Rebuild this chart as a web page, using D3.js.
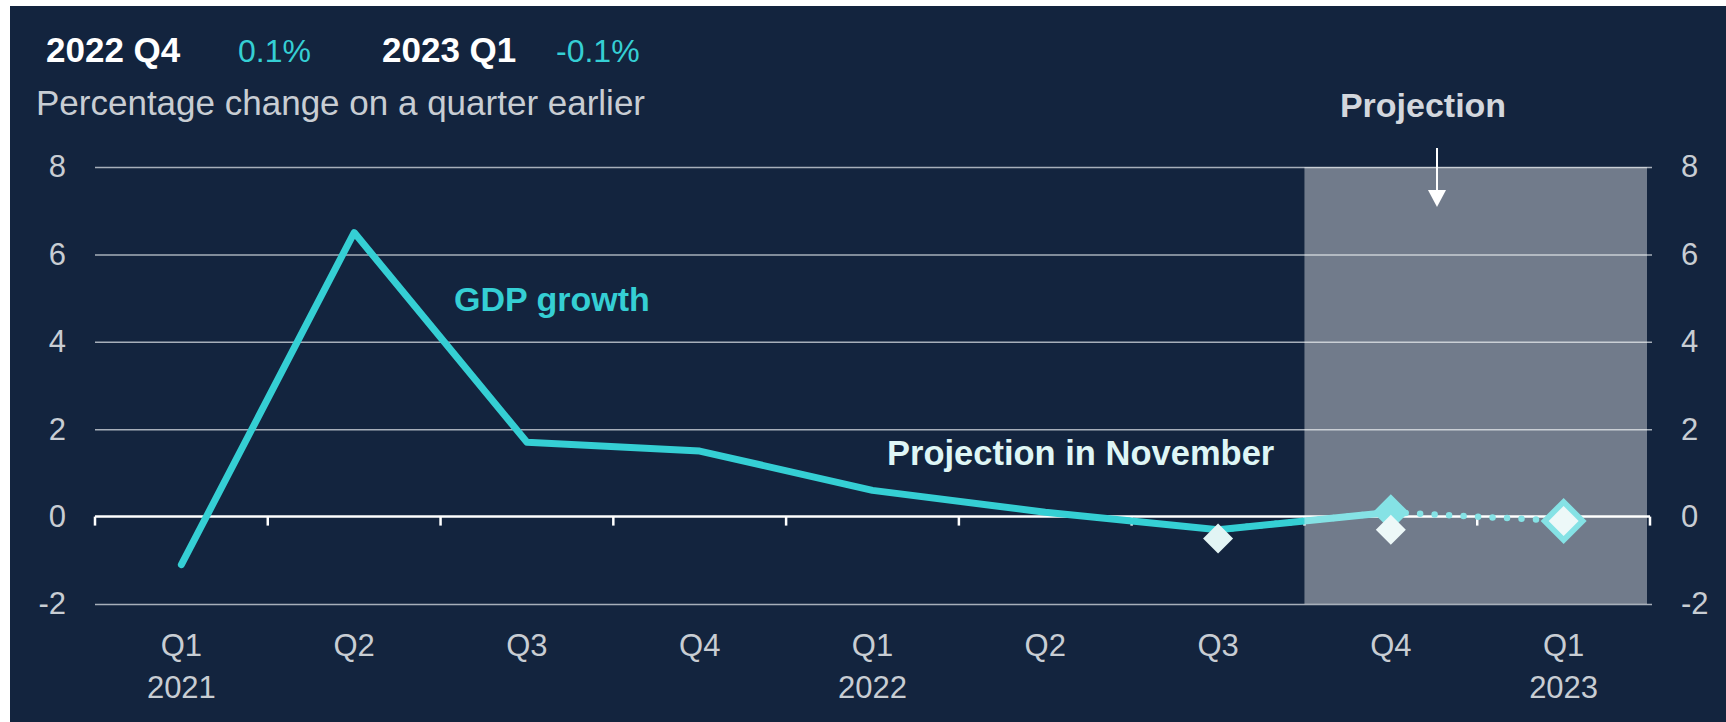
<!DOCTYPE html>
<html lang="en">
<head>
<meta charset="utf-8">
<script src="https://d3js.org/d3.v7.min.js"></script>
<style>
  body { margin: 0; background: #ffffff; }
  text { font-family: "Liberation Sans", Arial, sans-serif; }
</style>
</head>
<body>
<div id="chart"></div>
<script>
// quarters on the x axis
const quarters = ["2021 Q1", "2021 Q2", "2021 Q3", "2021 Q4", "2022 Q1", "2022 Q2", "2022 Q3", "2022 Q4", "2023 Q1"];
const quarterLabels = ["Q1", "Q2", "Q3", "Q4", "Q1", "Q2", "Q3", "Q4", "Q1"];
const yearLabels = ["2021", "", "", "", "2022", "", "", "", "2023"];

// GDP growth, % change on a quarter earlier (solid line)
const gdpQuarters = ["2021 Q1", "2021 Q2", "2021 Q3", "2021 Q4", "2022 Q1", "2022 Q2", "2022 Q3", "2022 Q4"];
const gdpGrowth = [-1.1, 6.5, 1.7, 1.5, 0.6, 0.1, -0.3, 0.1];

// current projection (dotted line + cyan diamonds)
const projQuarters = ["2022 Q3", "2022 Q4", "2023 Q1"];
const projValues = [-0.3, 0.1, -0.1];
const projMarkQuarters = ["2022 Q4", "2023 Q1"];
const projMarkValues = [0.1, -0.1];

// projection in November (white diamonds)
const novQuarters = ["2022 Q3", "2022 Q4", "2023 Q1"];
const novValues = [-0.5, -0.3, -0.1];

const yTicks = [-2, 0, 2, 4, 6, 8];
const shadeQuarters = ["2022 Q4", "2023 Q1"];

const W = 1726, H = 722;
const plotLeft = 95, plotRight = 1650, plotTop = 167, plotBottom = 604;
const cyan = "#35cfd4", navy = "#13243e", grey = "#c8cdd3";

var svg = d3.select("#chart").append("svg")
  .attr("width", W).attr("height", H);

svg.append("rect").attr("x", 10).attr("y", 6)
  .attr("width", W - 10).attr("height", H - 6).attr("fill", navy);

var x = d3.scaleBand().domain(quarters).range([plotLeft, plotRight]);
var y = d3.scaleLinear().domain([-2, 8]).range([plotBottom, plotTop]);
var cx = function(q) { return x(q) + x.bandwidth() / 2; };

// gridlines
svg.append("g")
  .attr("transform", `translate(${plotLeft},0)`)
  .call(d3.axisLeft(y).tickValues(yTicks.filter(d => d !== 0)).tickSize(-(plotRight - plotLeft + 2)).tickFormat(""))
  .call(g => g.select(".domain").remove())
  .call(g => g.selectAll("line").attr("stroke", "#a7afba").attr("stroke-width", 1.5));

// left and right tick labels (plain hyphen for negatives)
svg.append("g")
  .attr("transform", `translate(66,0)`)
  .call(d3.axisLeft(y).tickValues(yTicks).tickSize(0).tickPadding(0).tickFormat(d => String(d)))
  .call(g => g.select(".domain").remove())
  .call(g => g.selectAll("text").attr("fill", grey).style("font-size", "31px"));

svg.append("g")
  .attr("transform", `translate(1681,0)`)
  .call(d3.axisRight(y).tickValues(yTicks).tickSize(0).tickPadding(0).tickFormat(d => String(d)))
  .call(g => g.select(".domain").remove())
  .call(g => g.selectAll("text").attr("fill", grey).style("font-size", "31px"));

// zero line with ticks between quarters
svg.append("line")
  .attr("x1", plotLeft).attr("x2", plotRight)
  .attr("y1", y(0)).attr("y2", y(0))
  .attr("stroke", "#ffffff").attr("stroke-width", 2.5);

var bounds = quarters.map(q => x(q)).concat([plotRight]);
svg.append("g").selectAll("line").data(bounds).enter().append("line")
  .attr("x1", d => d).attr("x2", d => d)
  .attr("y1", y(0)).attr("y2", y(0) + 9)
  .attr("stroke", "#ffffff").attr("stroke-width", 2.5);

// x labels
var xl = svg.append("g");
xl.selectAll(".q").data(quarters).enter().append("text")
  .attr("x", d => cx(d)).attr("y", 656)
  .attr("text-anchor", "middle").attr("fill", grey).style("font-size", "31px")
  .text((d, i) => quarterLabels[i]);
xl.selectAll(".yr").data(quarters).enter().append("text")
  .attr("x", d => cx(d)).attr("y", 698)
  .attr("text-anchor", "middle").attr("fill", grey).style("font-size", "31px")
  .text((d, i) => yearLabels[i]);

// GDP line
var line = d3.line().x(d => cx(d.q)).y(d => y(d.v));
svg.append("path")
  .datum(gdpQuarters.map((q, i) => ({q: q, v: gdpGrowth[i]})))
  .attr("d", line)
  .attr("fill", "none").attr("stroke", cyan)
  .attr("stroke-width", 7).attr("stroke-linejoin", "round").attr("stroke-linecap", "round");

// projection dotted line
svg.append("path")
  .datum(projQuarters.map((q, i) => ({q: q, v: projValues[i]})))
  .attr("d", line)
  .attr("fill", "none").attr("stroke", cyan)
  .attr("stroke-width", 6.5).attr("stroke-linecap", "round")
  .attr("stroke-dasharray", "0 14.5");

// diamonds
var diamond = function(size) {
  var h = size / 2;
  return `M0,${-h}L${h},0L0,${h}L${-h},0Z`;
};
svg.append("g").selectAll("path").data(projMarkQuarters).enter().append("path")
  .attr("transform", (d, i) => `translate(${cx(d)},${y(projMarkValues[i])})`)
  .attr("d", (d, i) => diamond(i === projMarkQuarters.length - 1 ? 46 : 36))
  .attr("fill", cyan);

svg.append("g").selectAll("path").data(novQuarters).enter().append("path")
  .attr("transform", (d, i) => `translate(${cx(d)},${y(novValues[i])})`)
  .attr("d", diamond(30))
  .attr("fill", "#e2f4f4");

// projection shading
svg.append("rect")
  .attr("x", x(shadeQuarters[0]))
  .attr("y", y(8))
  .attr("width", x(shadeQuarters[1]) + x.bandwidth() - x(shadeQuarters[0]) - 3)
  .attr("height", y(-2) - y(8))
  .attr("fill", "#ffffff").attr("fill-opacity", 0.4);

// arrow
svg.append("line")
  .attr("x1", 1437).attr("x2", 1437).attr("y1", 148).attr("y2", 192)
  .attr("stroke", "#ffffff").attr("stroke-width", 2);
svg.append("path")
  .attr("d", "M1428,190L1446,190L1437,207Z")
  .attr("fill", "#ffffff");

// texts
svg.append("text").attr("x", 1423).attr("y", 117).attr("text-anchor", "middle")
  .attr("fill", "#d3d7dd").style("font-size", "34px").style("font-weight", "bold")
  .text("Projection");

svg.append("text").attr("x", 454).attr("y", 311)
  .attr("fill", cyan).style("font-size", "34px").style("font-weight", "bold")
  .text("GDP growth");

svg.append("text").attr("x", 887).attr("y", 465)
  .attr("fill", "#dff6f6").style("font-size", "34.5px").style("font-weight", "bold")
  .text("Projection in November");

svg.append("text").attr("x", 46).attr("y", 62)
  .attr("fill", "#ffffff").style("font-size", "35px").style("font-weight", "bold")
  .text("2022 Q4");
svg.append("text").attr("x", 238).attr("y", 62)
  .attr("fill", cyan).style("font-size", "32px")
  .text("0.1%");
svg.append("text").attr("x", 382).attr("y", 62)
  .attr("fill", "#ffffff").style("font-size", "35px").style("font-weight", "bold")
  .text("2023 Q1");
svg.append("text").attr("x", 556).attr("y", 62)
  .attr("fill", cyan).style("font-size", "32px")
  .text("-0.1%");

svg.append("text").attr("x", 36).attr("y", 115)
  .attr("fill", grey).style("font-size", "35px")
  .text("Percentage change on a quarter earlier");
</script>
</body>
</html>
